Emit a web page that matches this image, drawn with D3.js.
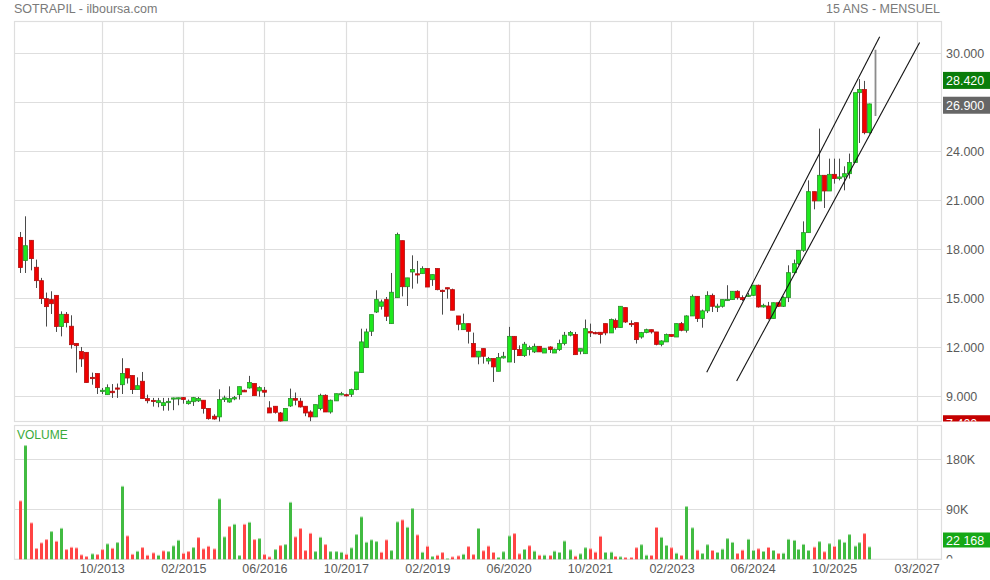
<!DOCTYPE html>
<html>
<head>
<meta charset="utf-8">
<script src="https://cdn.jsdelivr.net/npm/d3@7"></script>
<style>
  html, body { margin: 0; padding: 0; background: #fff; }
  svg { display: block; font-family: "Liberation Sans", Arial, sans-serif; }
</style>
</head>
<body>
<svg id="chart" width="990" height="580"></svg>
<script>
// ---------------- DATA ----------------
const title = "SOTRAPIL - ilboursa.com";
const subtitle = "15 ANS - MENSUEL";
const firstMonth = [2012, 5]; // June 2012, monthly candles

const opens = [
  18.73,17.31,18.55,16.90,16.08,14.98,14.92,15.18,13.27,14.02,
  13.29,12.24,11.75,11.69,10.16,10.39,9.29,9.10,9.31,9.51,
  9.71,10.69,10.27,9.41,9.92,8.86,8.75,8.61,8.43,8.61,
  8.87,8.88,8.92,8.55,8.67,8.72,8.76,8.25,7.78,7.74,
  8.80,8.65,8.84,9.10,9.37,9.51,9.78,9.33,9.37,8.29,
  8.39,7.98,7.49,8.41,8.86,8.70,8.39,8.04,7.74,8.25,
  9.06,8.04,8.72,9.14,9.10,9.12,9.41,10.45,11.98,12.98,
  14.16,14.51,14.92,13.45,15.04,18.53,15.71,16.61,16.50,16.51,
  16.82,16.14,16.82,15.49,15.65,15.53,13.92,13.08,13.45,12.23,
  11.41,11.92,11.16,11.31,10.53,11.35,11.10,12.67,11.86,11.49,
  11.86,11.72,12.06,11.65,12.02,11.65,11.86,12.23,12.74,12.78,
  11.76,11.61,12.96,12.90,12.92,13.45,12.88,13.65,13.21,14.43,
  13.46,13.51,12.63,12.90,13.08,12.94,12.18,12.33,12.78,12.63,
  13.45,13.04,13.92,15.12,13.76,14.23,15.18,14.49,14.51,14.90,
  14.92,15.43,15.04,15.16,15.18,15.80,14.47,14.53,13.76,14.73,
  14.51,15.04,16.57,17.12,17.94,19.02,21.53,20.96,22.53,21.57,
  22.59,22.33,22.43,22.63,23.31,27.59,27.78,25.14,26.90
];
const highs = [
  19.06,20.02,18.55,17.37,16.25,15.35,15.43,15.18,14.20,14.16,
  13.96,12.24,12.02,11.69,10.45,10.39,9.51,9.73,9.75,9.78,
  11.33,10.69,10.27,10.16,10.49,9.10,8.90,8.90,8.90,8.90,
  8.92,8.92,8.96,8.80,8.96,8.96,8.76,8.25,7.90,9.43,
  9.04,9.61,9.02,9.59,9.41,10.25,9.78,9.61,9.57,8.70,
  8.39,8.04,8.25,9.47,9.23,8.90,8.39,8.14,8.49,9.16,
  9.12,8.80,9.16,9.27,9.16,9.47,10.49,13.14,13.14,14.00,
  15.49,14.92,15.08,16.55,19.02,18.53,16.25,17.63,17.29,16.96,
  16.82,16.45,16.82,15.53,15.65,15.59,13.92,14.06,13.45,12.90,
  11.76,11.92,11.41,11.31,11.65,11.72,13.25,12.67,12.12,12.33,
  12.10,12.23,12.06,11.92,12.06,11.92,12.47,12.94,13.00,12.94,
  11.92,13.70,13.45,12.96,12.92,13.45,13.76,13.76,14.51,14.43,
  13.65,13.51,12.94,13.14,13.08,12.94,12.43,12.84,12.78,13.45,
  13.55,13.96,15.23,15.12,14.31,15.43,15.29,14.67,14.92,15.80,
  15.43,15.49,15.18,15.33,15.80,15.84,14.67,14.78,14.74,14.78,
  15.12,17.02,17.37,17.94,19.71,22.22,21.53,25.39,22.53,23.55,
  23.55,23.55,23.08,23.86,27.59,28.42,28.31,26.92,30.22
];
const lows = [
  16.55,16.55,16.71,15.63,14.65,13.27,14.04,12.94,12.67,13.22,
  11.92,10.45,10.80,9.84,9.71,9.14,9.14,9.10,8.90,8.90,
  9.14,9.78,9.14,9.41,8.86,8.57,8.37,8.33,8.12,8.12,
  8.15,8.45,8.55,8.49,8.41,8.65,7.94,7.57,7.57,7.43,
  8.65,8.61,8.76,8.80,9.27,9.47,9.04,8.98,8.96,7.98,
  7.94,7.43,7.49,8.35,8.45,8.31,7.78,7.47,7.74,8.14,
  8.04,7.94,8.72,9.06,8.98,8.96,9.37,10.45,11.98,12.69,
  14.10,14.31,13.61,13.45,15.04,15.12,14.53,15.59,15.90,16.51,
  15.69,15.76,15.49,14.00,14.98,14.27,13.04,13.08,12.23,11.41,
  10.96,11.00,10.96,9.88,10.53,11.31,11.10,11.04,11.49,11.41,
  11.50,11.65,11.72,11.65,11.65,11.65,11.78,12.12,12.67,11.55,
  11.57,11.61,12.63,12.80,12.23,12.74,12.88,13.08,13.21,13.49,
  13.25,12.23,12.53,12.86,12.84,12.12,12.06,12.33,12.63,12.63,
  12.98,12.90,13.92,13.55,13.20,14.10,14.16,14.16,14.43,14.84,
  14.92,14.92,14.84,15.08,15.14,14.43,14.43,13.70,13.76,14.47,
  14.47,14.77,16.51,17.02,17.84,19.02,20.45,20.96,20.53,21.57,
  22.02,22.22,21.61,22.33,23.31,24.51,25.04,25.08,26.16
];
const closes = [
  16.88,18.22,17.43,16.08,14.98,14.49,14.67,13.27,14.02,13.51,
  12.16,12.10,11.29,9.84,10.08,9.53,9.37,9.53,9.22,9.49,
  10.39,10.12,9.41,9.65,8.86,8.73,8.72,8.73,8.61,8.69,
  8.90,8.91,8.80,8.70,8.92,8.86,8.25,7.63,7.61,8.80,
  8.90,8.86,8.92,9.59,9.27,9.84,9.04,9.53,9.25,7.98,
  8.02,7.47,8.25,8.86,8.76,8.35,7.98,7.74,8.49,9.06,
  8.04,8.76,9.16,9.16,9.08,9.41,10.49,12.33,12.94,14.00,
  14.92,14.78,13.90,15.37,18.90,15.71,16.25,16.76,16.48,16.82,
  15.69,16.45,15.53,15.41,15.57,14.27,13.41,13.45,12.98,11.41,
  11.76,11.45,11.31,10.80,11.37,11.45,12.67,11.86,11.49,12.19,
  11.98,12.06,11.72,11.92,11.86,11.88,12.23,12.74,12.90,11.55,
  11.92,13.14,12.88,12.85,12.78,12.88,13.70,13.21,14.51,13.55,
  13.44,12.47,12.90,13.08,12.94,12.18,12.39,12.78,12.67,13.45,
  13.04,13.92,15.12,13.76,14.23,15.18,14.51,14.52,14.92,14.93,
  15.43,15.04,14.92,15.19,15.80,14.47,14.57,13.76,14.73,14.51,
  15.06,16.57,17.12,17.94,19.02,21.53,20.96,22.53,21.57,22.59,
  22.33,22.43,22.63,23.31,27.59,27.78,25.14,26.90,26.90
];
const volumes = [
  105000,204600,65400,19200,29400,35400,49800,32400,55800,17400,
  21600,20400,7800,4800,9600,8400,17400,27600,19800,30000,
  131400,42000,9000,14400,21000,7200,11400,7200,15000,13800,
  24000,34200,10800,13800,21000,39000,18600,23400,18600,108600,
  40200,58800,63000,6600,63000,66600,35400,37200,8400,4200,
  17400,24600,26400,102600,40200,55200,15600,46800,13800,39600,
  26400,13800,13800,12600,9000,20400,44400,76200,30600,34800,
  31800,12600,34800,15600,67200,70800,57600,91200,43800,12600,
  23400,4800,7200,12000,1200,4200,6000,9000,22800,8400,
  55300,15200,23700,12200,3000,13400,42000,46200,9700,17600,
  24300,14600,7300,7300,6700,14600,12200,32800,17000,5500,
  9700,20700,18800,12800,41300,12200,12800,4900,4300,3000,
  3000,20700,26100,7300,6700,57200,39500,24900,20700,10900,
  6700,94800,56500,16400,10300,26100,15800,12200,18200,37100,
  30400,10300,16400,35900,15800,18800,14000,21300,15800,10300,
  10900,35900,34000,17600,26800,15800,21900,31600,13400,28000,
  23100,35300,30400,44400,23700,29800,46200,22168,null
];

const priceTicks = [9, 12, 15, 18, 21, 24, 27, 30];
const volumeTicks = [0, 90000, 180000];
const dateTicks = ["2013-10-01","2015-02-01","2016-06-01","2017-10-01","2019-02-01","2020-06-01","2021-10-01","2023-02-01","2024-06-01","2025-10-01","2027-02-07"];
const dateTickLabels = ["10/2013","02/2015","06/2016","10/2017","02/2019","06/2020","10/2021","02/2023","06/2024","10/2025","03/2027"];

// channel trend lines (date, price)
const trendUpper = [["2023-08-31", 10.47], ["2026-07-01", 31.02]];
const trendLower = [["2024-02-26", 9.94], ["2027-02-25", 30.66]];

// right-side markers
const priceMarkerValues = [28.42, 26.90, 7.40];
const priceMarkerColors = ["#0a7d0a", "#666666", "#c40000"];
const volumeMarkerValue = 22168;

// ---------------- CHART ----------------
const svg = d3.select("#chart");
const L = 14.5, R = 941.5;
const mainTop = 21.5, mainBottom = 421.5;
const volTop = 425.5, volBottom = 559.3;

const parse = d3.utcParse("%Y-%m-%d");
const dates = opens.map((_, i) => new Date(Date.UTC(firstMonth[0], firstMonth[1] + i, 1)));

const x = d3.scaleUtc()
  .domain([Date.UTC(2012, 3, 27), Date.UTC(2027, 6, 6)])
  .range([L, R]);
const y = d3.scaleLinear().domain([7.457, 31.947]).range([mainBottom, mainTop]);
const yv = d3.scaleLinear().domain([0, 240840]).range([volBottom, volTop]);

const gridColor = "#dedede";
const textColor = "#5a5a5a";

// title
svg.append("text").attr("x", 14).attr("y", 13).attr("font-size", 12.5)
  .attr("fill", "#7a7a7a").text(title);
svg.append("text").attr("x", 940).attr("y", 13).attr("font-size", 12.5)
  .attr("text-anchor", "end").attr("fill", "#7a7a7a").text(subtitle);

// grids
function panelGrid(top, bottom, yScale, ticks) {
  const g = svg.append("g").attr("stroke", gridColor).attr("stroke-width", 1.2).attr("fill", "none");
  ticks.forEach(t => {
    const yy = Math.round(yScale(t)) + 0.5;
    if (yy > top && yy < bottom) g.append("line").attr("x1", L).attr("x2", R).attr("y1", yy).attr("y2", yy);
  });
  dateTicks.forEach(d => {
    const xx = Math.round(x(parse(d))) + 0.5;
    g.append("line").attr("x1", xx).attr("x2", xx).attr("y1", top).attr("y2", bottom);
  });
  g.append("rect").attr("x", L).attr("y", top).attr("width", R - L).attr("height", bottom - top);
}
panelGrid(mainTop, mainBottom, y, priceTicks);
panelGrid(volTop, volBottom, yv, volumeTicks);

// clip paths (user space of the untransformed parent groups)
const defs = svg.append("defs");
defs.append("clipPath").attr("id", "mainClip").append("rect")
  .attr("x", L).attr("y", mainTop).attr("width", R - L).attr("height", mainBottom - mainTop);
defs.append("clipPath").attr("id", "mainAxisClip").append("rect")
  .attr("x", R).attr("y", 0).attr("width", 60).attr("height", mainBottom);
defs.append("clipPath").attr("id", "volAxisClip").append("rect")
  .attr("x", R).attr("y", volTop).attr("width", 60).attr("height", volBottom - volTop - 0.8);

// candles
const data = dates.map((d, i) => ({ d, o: opens[i], h: highs[i], l: lows[i], c: closes[i], v: volumes[i],
  pc: i > 0 ? closes[i - 1] : opens[i] }));
const cg = svg.append("g").attr("clip-path", "url(#mainClip)");
const bw = 4;
data.forEach(p => {
  const cx = Math.round(x(p.d)) + 0.5;
  const up = p.c > p.o, flat = p.c === p.o;
  if (flat) {
    cg.append("line").attr("x1", cx).attr("x2", cx).attr("y1", y(p.h)).attr("y2", y(p.l))
      .attr("stroke", "#8c8c8c").attr("stroke-width", 1.8);
    return;
  }
  cg.append("line").attr("x1", cx).attr("x2", cx).attr("y1", y(p.h)).attr("y2", y(p.l))
    .attr("stroke", "#4a4a4a").attr("stroke-width", 1);
  const top = y(Math.max(p.o, p.c)), bot = y(Math.min(p.o, p.c));
  cg.append("rect").attr("x", cx - bw / 2).attr("y", top).attr("width", bw)
    .attr("height", Math.max(1.2, bot - top))
    .attr("fill", up ? "#1ee81e" : "#f00000")
    .attr("stroke", up ? "#2b8f2b" : "#b01010").attr("stroke-width", 0.8);
});

// trend lines
const tl = d3.line().x(p => x(parse(p[0]))).y(p => y(p[1]));
[trendUpper, trendLower].forEach(t => {
  cg.append("path").attr("d", tl(t)).attr("fill", "none").attr("stroke", "#111").attr("stroke-width", 1.1);
});

// volume bars
const vg = svg.append("g");
data.forEach(p => {
  if (p.v == null) return;
  const cx = Math.round(x(p.d)) + 0.5;
  const up = p.c >= p.pc && !(p.pc === p.o && p.c < p.o);
  const fill = up ? "#41bb41" : "#ff4444";
  const cap = up ? "#a8dca8" : "#ffaaaa";
  const top = yv(p.v);
  vg.append("rect").attr("x", cx - 1.5).attr("y", top).attr("width", 3)
    .attr("height", volBottom - top).attr("fill", fill);
  vg.append("rect").attr("x", cx - 1.5).attr("y", top - 0.5).attr("width", 3)
    .attr("height", 1).attr("fill", cap);
});

// VOLUME label
svg.append("text").attr("x", 17).attr("y", 438.5).attr("font-size", 12)
  .attr("fill", "#3aaa3a").text("VOLUME");

// price axis
const fmtPrice = d3.format(".3f");
const yaWrap = svg.append("g").attr("clip-path", "url(#mainAxisClip)");
const ya = yaWrap.append("g").attr("transform", `translate(${R},0)`)
  .call(d3.axisRight(y).tickValues(priceTicks).tickFormat(fmtPrice).tickSize(0).tickPadding(4.5));
ya.select(".domain").remove();
ya.selectAll("text").attr("font-size", 12.5).attr("fill", textColor)
  .attr("font-family", "'Liberation Sans', Arial, sans-serif");

// price markers
const pm = svg.append("g").attr("clip-path", "url(#mainAxisClip)");
priceMarkerValues.forEach((v, i) => {
  const cy = y(v) + 1.3;
  pm.append("rect").attr("x", 943).attr("y", cy - 8.5).attr("width", 47).attr("height", 17)
    .attr("fill", priceMarkerColors[i]);
  pm.append("text").attr("x", 946).attr("y", cy).attr("dy", "0.36em").attr("font-size", 12.5)
    .attr("fill", "#fff").text(fmtPrice(v));
});

// volume axis
const fmtVol = v => v === 0 ? "0" : (v / 1000) + "K";
const vaWrap = svg.append("g").attr("clip-path", "url(#volAxisClip)");
const va = vaWrap.append("g").attr("transform", `translate(${R},0)`)
  .call(d3.axisRight(yv).tickValues(volumeTicks).tickFormat(fmtVol).tickSize(0).tickPadding(4.5));
va.select(".domain").remove();
va.selectAll("text").attr("font-size", 12.5).attr("fill", textColor)
  .attr("font-family", "'Liberation Sans', Arial, sans-serif");

// volume marker
const vcy = Math.min(yv(volumeMarkerValue), 540);
const vm = svg.append("g");
vm.append("rect").attr("x", 943).attr("y", vcy - 7.5).attr("width", 47).attr("height", 15).attr("fill", "#16a816");
vm.append("text").attr("x", 946).attr("y", vcy).attr("dy", "0.36em").attr("font-size", 12.5)
  .attr("fill", "#fff").text(d3.format(",")(volumeMarkerValue).replace(/,/g, " "));

// date axis
const xa = svg.append("g").attr("transform", `translate(0,${volBottom})`)
  .call(d3.axisBottom(x).tickValues(dateTicks.map(parse))
    .tickFormat((d, i) => dateTickLabels[i]).tickSize(0).tickPadding(5));
xa.select(".domain").remove();
xa.selectAll("text").attr("font-size", 12.5).attr("fill", textColor)
  .attr("font-family", "'Liberation Sans', Arial, sans-serif");
</script>
</body>
</html>
